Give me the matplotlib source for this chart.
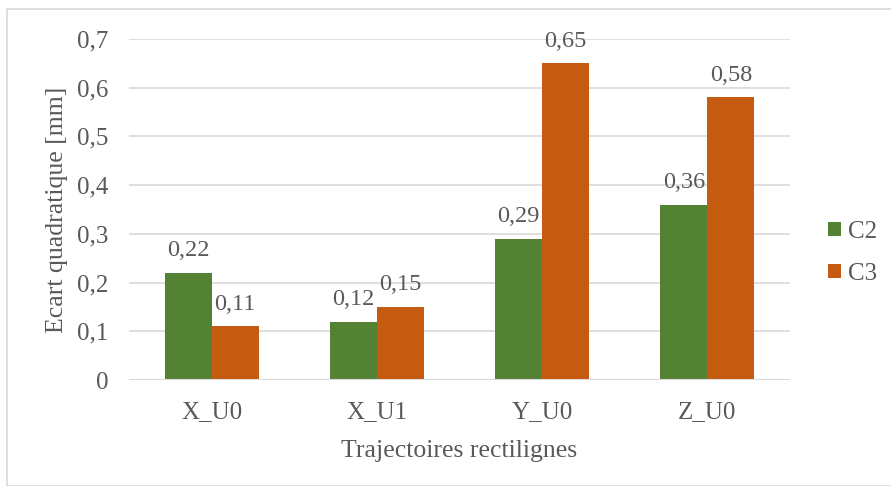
import matplotlib.pyplot as plt
import matplotlib.patches as patches
import numpy as np

# --- data ---
categories = ["X_U0", "X_U1", "Y_U0", "Z_U0"]
c2_values = [0.22, 0.12, 0.29, 0.36]
c3_values = [0.11, 0.15, 0.65, 0.58]
yticks = [0, 0.1, 0.2, 0.3, 0.4, 0.5, 0.6, 0.7]

green = "#548235"
orange = "#C55A11"
text_col = "#595959"
grid_col = "#D9D9D9"

plt.rcParams["font.family"] = ["Liberation Serif", "DejaVu Serif"]

W, H = 891, 486
fig = plt.figure(figsize=(W / 100, H / 100), dpi=100)

# light chart border like Excel
fig.patches.append(patches.Rectangle((7 / W, 0), 1, 1 - 9 / H, transform=fig.transFigure,
                                     fill=False, edgecolor=grid_col, linewidth=1.2))

ax = fig.add_axes([129 / W, 1 - 380 / H, (790 - 129) / W, (380 - 39) / H])

x = np.arange(len(categories))
bw = 0.285
b2 = ax.bar(x - bw / 2, c2_values, bw, color=green, label="C2", zorder=3)
b3 = ax.bar(x + bw / 2, c3_values, bw, color=orange, label="C3", zorder=3)

def fmt(v):
    return f"{v:.2f}".replace(".", ",")

for bars, vals in ((b2, c2_values), (b3, c3_values)):
    for b, v in zip(bars, vals):
        ax.annotate(fmt(v), (b.get_x() + b.get_width() / 2, v), xytext=(0, 12),
                    textcoords="offset points", ha="center", va="baseline",
                    fontsize=17.5, color=text_col)

ax.set_xlim(-0.5, len(categories) - 0.5)
ax.set_ylim(0, 0.7)
ax.set_yticks(yticks)
ax.set_yticklabels([("%.1f" % t).replace(".", ",") if t else "0" for t in yticks])
ax.set_xticks(x)
ax.set_xticklabels(categories)
ax.tick_params(axis="both", length=0, labelsize=18, labelcolor=text_col)
ax.tick_params(axis="y", pad=15)
ax.tick_params(axis="x", pad=15)

ax.grid(axis="y", color=grid_col, linewidth=1.2, zorder=0)
for s in ax.spines.values():
    s.set_visible(False)
ax.axhline(0, color=grid_col, linewidth=1.5, zorder=4)

ax.set_xlabel("Trajectoires rectilignes", fontsize=18.5, color=text_col, labelpad=12)
ax.set_ylabel("Ecart quadratique [mm]", fontsize=18.5, color=text_col, labelpad=6)

leg = ax.legend(loc="center left", bbox_to_anchor=(1.024, 0.372), frameon=False, fontsize=18,
                handlelength=0.5, handleheight=0.5, labelspacing=0.8, handletextpad=0.3)
for t in leg.get_texts():
    t.set_color(text_col)

fig.savefig("out.png", dpi=100)
